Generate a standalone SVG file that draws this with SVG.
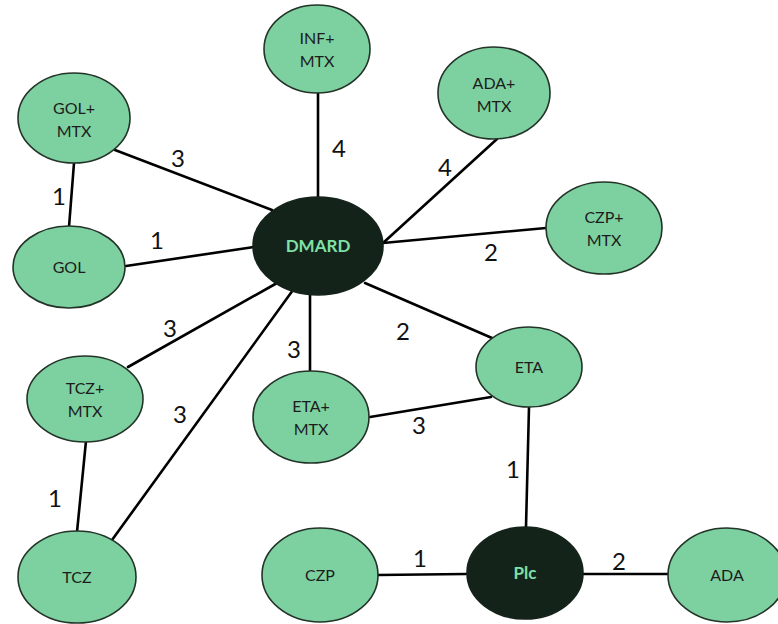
<svg xmlns="http://www.w3.org/2000/svg" width="778" height="624" viewBox="0 0 778 624">
  <style>
    .node { fill: #7dd1a0; stroke: #233328; stroke-width: 1.6; }
    .hub { fill: #14231a; stroke: #14231a; stroke-width: 1.6; }
    .edge { stroke: #000; stroke-width: 2.6; fill: none; stroke-linecap: round; }
    .lbl { font-family: "Lato", "Open Sans", "Liberation Sans", sans-serif; font-size: 16px; fill: #1c1c1c; text-anchor: middle; }
    .hublbl { font-family: "Lato", "Open Sans", "Liberation Sans", sans-serif; font-size: 17px; font-weight: bold; fill: #7fe0a6; text-anchor: middle; }
    .w { font-family: "Lato", "Open Sans", "Liberation Sans", sans-serif; font-size: 24px; fill: #111; text-anchor: middle; dominant-baseline: central; }
  </style>
  <rect width="778" height="624" fill="#fff"/>

  <!-- connectors with weights -->
  <g id="edges">
    <line class="edge" x1="115" y1="150" x2="272" y2="210"/>
    <line class="edge" x1="74" y1="163" x2="69" y2="227"/>
    <line class="edge" x1="126" y1="266" x2="254" y2="247"/>
    <line class="edge" x1="128" y1="367" x2="277" y2="283"/>
    <line class="edge" x1="112" y1="540" x2="293" y2="290"/>
    <line class="edge" x1="86" y1="441" x2="77" y2="532"/>
    <line class="edge" x1="318" y1="93" x2="318" y2="197"/>
    <line class="edge" x1="497" y1="139" x2="383" y2="243"/>
    <line class="edge" x1="383" y1="243" x2="546" y2="228"/>
    <line class="edge" x1="310" y1="294" x2="310" y2="372"/>
    <line class="edge" x1="365" y1="283" x2="492" y2="338"/>
    <line class="edge" x1="370" y1="417" x2="491" y2="397"/>
    <line class="edge" x1="529" y1="407" x2="526" y2="527"/>
    <line class="edge" x1="378" y1="575" x2="466" y2="574"/>
    <line class="edge" x1="583" y1="574" x2="668" y2="574"/>

    <text class="w" x="178" y="157">3</text>
    <text class="w" x="59" y="195">1</text>
    <text class="w" x="157" y="239">1</text>
    <text class="w" x="170" y="327">3</text>
    <text class="w" x="180" y="413">3</text>
    <text class="w" x="55" y="497">1</text>
    <text class="w" x="339" y="147">4</text>
    <text class="w" x="445" y="166">4</text>
    <text class="w" x="491" y="251">2</text>
    <text class="w" x="294" y="348">3</text>
    <text class="w" x="403" y="330">2</text>
    <text class="w" x="419" y="424">3</text>
    <text class="w" x="513" y="468">1</text>
    <text class="w" x="420" y="557">1</text>
    <text class="w" x="619" y="560">2</text>
  </g>

  <g id="n-infmtx">
    <ellipse class="node" cx="317" cy="49" rx="53" ry="44"/>
    <text class="lbl" x="317" y="44">INF+</text>
    <text class="lbl" x="317" y="67">MTX</text>
  </g>
  <g id="n-golmtx">
    <ellipse class="node" cx="74" cy="118" rx="56" ry="45"/>
    <text class="lbl" x="74" y="114">GOL+</text>
    <text class="lbl" x="74" y="137">MTX</text>
  </g>
  <g id="n-adamtx">
    <ellipse class="node" cx="494" cy="93" rx="56" ry="46"/>
    <text class="lbl" x="494" y="89">ADA+</text>
    <text class="lbl" x="494" y="112">MTX</text>
  </g>
  <g id="n-czpmtx">
    <ellipse class="node" cx="604" cy="228" rx="58" ry="46"/>
    <text class="lbl" x="604" y="223">CZP+</text>
    <text class="lbl" x="604" y="246">MTX</text>
  </g>
  <g id="n-gol">
    <ellipse class="node" cx="69" cy="267" rx="56" ry="41"/>
    <text class="lbl" x="69" y="273">GOL</text>
  </g>
  <g id="n-dmard">
    <ellipse class="hub" cx="318" cy="246" rx="65" ry="49"/>
    <text class="hublbl" x="318" y="252">DMARD</text>
  </g>
  <g id="n-tczmtx">
    <ellipse class="node" cx="85" cy="399" rx="58" ry="43"/>
    <text class="lbl" x="85" y="394">TCZ+</text>
    <text class="lbl" x="85" y="417">MTX</text>
  </g>
  <g id="n-etamtx">
    <ellipse class="node" cx="311" cy="417" rx="58" ry="46"/>
    <text class="lbl" x="311" y="412">ETA+</text>
    <text class="lbl" x="311" y="435">MTX</text>
  </g>
  <g id="n-eta">
    <ellipse class="node" cx="529" cy="367" rx="53" ry="40"/>
    <text class="lbl" x="529" y="373">ETA</text>
  </g>
  <g id="n-tcz">
    <ellipse class="node" cx="77" cy="577" rx="59" ry="46"/>
    <text class="lbl" x="77" y="583">TCZ</text>
  </g>
  <g id="n-czp">
    <ellipse class="node" cx="320" cy="575" rx="58" ry="47"/>
    <text class="lbl" x="320" y="581">CZP</text>
  </g>
  <g id="n-plc">
    <ellipse class="hub" cx="525" cy="573" rx="58" ry="46"/>
    <text class="hublbl" x="525" y="579">Plc</text>
  </g>
  <g id="n-ada">
    <ellipse class="node" cx="727" cy="575" rx="59" ry="47"/>
    <text class="lbl" x="727" y="581">ADA</text>
  </g>
</svg>
